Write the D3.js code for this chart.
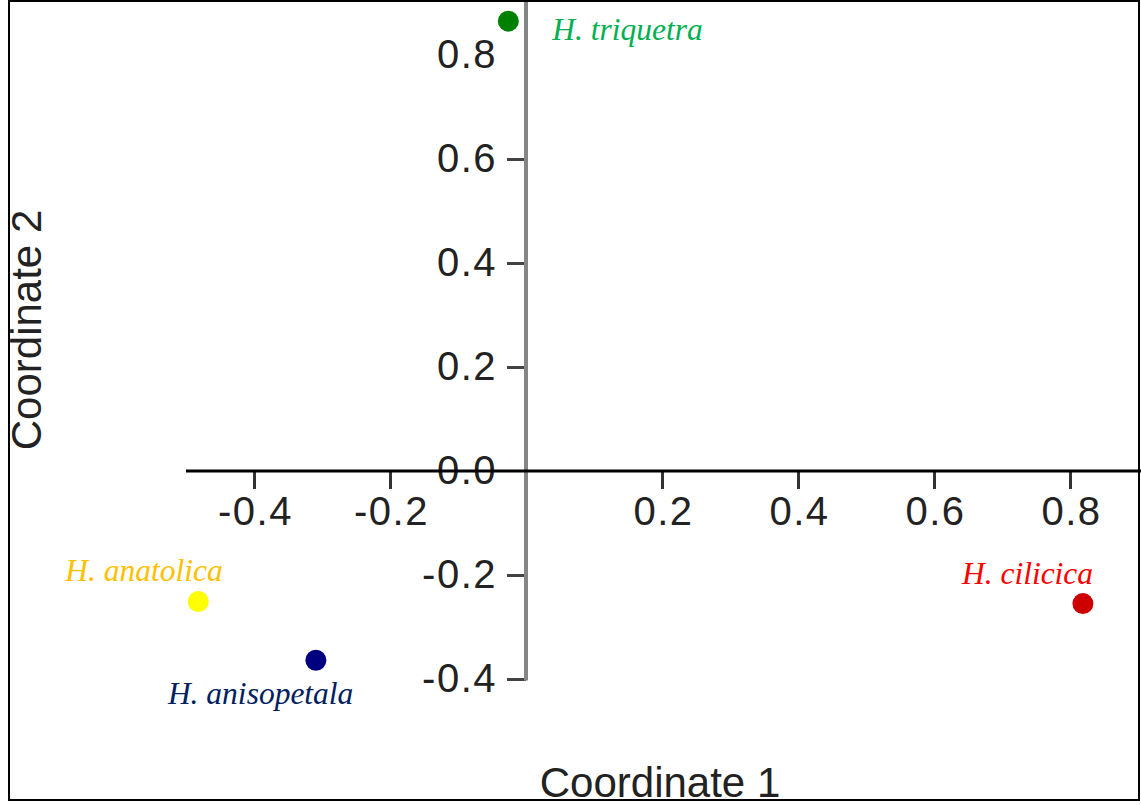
<!DOCTYPE html>
<html>
<head>
<meta charset="utf-8">
<script src="https://cdn.jsdelivr.net/npm/d3@7"></script>
<style>
  body { margin: 0; background: #fff; }
  .tick text { font-family: "Liberation Sans", Arial, sans-serif; font-size: 40px; letter-spacing: 1.5px; fill: #222; }
  .axis-title { font-family: "Liberation Sans", Arial, sans-serif; font-size: 42px; fill: #222; }
  .species { font-family: "Liberation Serif", "Times New Roman", serif; font-style: italic; font-size: 31.5px; }
</style>
</head>
<body>
<div id="chart"></div>
<script>
// PCoA coordinates
var species = ['H. triquetra', 'H. anatolica', 'H. anisopetala', 'H. cilicica'];
var coord1 = [-0.026, -0.482, -0.309, 0.819];
var coord2 = [0.865, -0.251, -0.364, -0.255];
var xTicks = [-0.4, -0.2, 0.2, 0.4, 0.6, 0.8];
var yTicks = [-0.4, -0.2, 0.0, 0.2, 0.4, 0.6, 0.8];

// styling / layout
var pointColors = ['#008000', '#ffff00', '#000080', '#cc0000'];
var labelColors = ['#00b050', '#ffc000', '#002060', '#ff0000'];
var labelOffsets = [[44, 19], [-133, -21], [-148, 44], [-121, -20]];

var width = 1141,
    height = 805;

var x = d3.scaleLinear().domain([0, 0.8]).range([526, 1070]);
var y = d3.scaleLinear().domain([0, 0.8]).range([471, 55]);

var svg = d3.select('#chart')
    .append('svg')
    .attr('width', width)
    .attr('height', height);

// X axis
var xAxis = d3.axisBottom(x)
    .tickValues(xTicks)
    .tickFormat(d => d.toFixed(1))
    .tickSize(18)
    .tickPadding(8);

var gx = svg.append('g')
    .attr('class', 'x axis')
    .attr('transform', `translate(0,${y(0)})`)
    .call(xAxis);
gx.select('.domain').remove();
gx.selectAll('.tick line').attr('stroke', '#333').attr('stroke-width', 3);
gx.selectAll('.tick text').attr('dx', 1);

// Y axis
var yAxis = d3.axisLeft(y)
    .tickValues(yTicks)
    .tickFormat(d => d.toFixed(1))
    .tickSize(19)
    .tickPadding(10);

var gy = svg.append('g')
    .attr('class', 'y axis')
    .attr('transform', `translate(${x(0)},0)`)
    .call(yAxis);
gy.select('.domain').remove();
gy.selectAll('.tick line').attr('stroke', '#444').attr('stroke-width', 3);
gy.selectAll('.tick').filter(d => d === 0 || d === 0.8).select('line').remove();

// axis lines
svg.append('line')
    .attr('x1', x(0)).attr('x2', x(0))
    .attr('y1', 0).attr('y2', y(-0.4) + 1.5)
    .attr('stroke', '#858585')
    .attr('stroke-width', 4);

svg.append('line')
    .attr('x1', 186).attr('x2', width)
    .attr('y1', y(0)).attr('y2', y(0))
    .attr('stroke', '#000')
    .attr('stroke-width', 3);

// axis titles
svg.append('text')
    .attr('class', 'axis-title')
    .attr('x', 660)
    .attr('y', 797)
    .attr('text-anchor', 'middle')
    .text('Coordinate 1');

svg.append('text')
    .attr('class', 'axis-title')
    .attr('transform', 'translate(41,330) rotate(-90)')
    .attr('text-anchor', 'middle')
    .text('Coordinate 2');

// points
var pts = species.map((s, i) => ({name: s, c1: coord1[i], c2: coord2[i], i: i}));

svg.append('g')
    .selectAll('circle')
    .data(pts)
    .enter().append('circle')
    .attr('cx', d => x(d.c1))
    .attr('cy', d => y(d.c2))
    .attr('r', 10.5)
    .style('fill', d => pointColors[d.i]);

svg.append('g')
    .selectAll('text')
    .data(pts)
    .enter().append('text')
    .attr('class', 'species')
    .attr('x', d => x(d.c1) + labelOffsets[d.i][0])
    .attr('y', d => y(d.c2) + labelOffsets[d.i][1])
    .style('fill', d => labelColors[d.i])
    .text(d => d.name);

// frame
svg.append('rect')
    .attr('x', 9).attr('y', 1)
    .attr('width', 1130).attr('height', 799)
    .attr('fill', 'none')
    .attr('stroke', '#000')
    .attr('stroke-width', 2);
</script>
</body>
</html>
